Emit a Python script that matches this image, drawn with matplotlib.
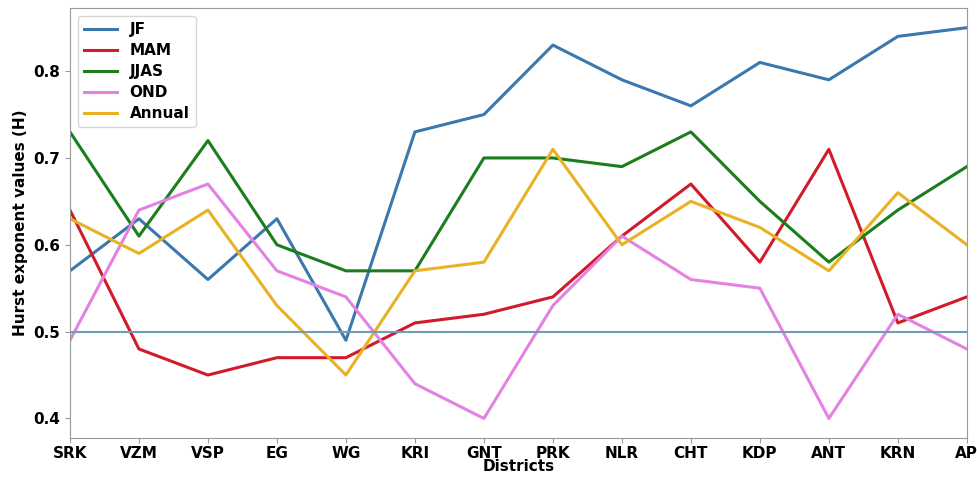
import numpy as np
import matplotlib
matplotlib.use("Agg")
import matplotlib.pyplot as plt

# Districts along the x axis
districts = ['SRK', 'VZM', 'VSP', 'EG', 'WG', 'KRI', 'GNT', 'PRK',
             'NLR', 'CHT', 'KDP', 'ANT', 'KRN', 'AP']

# Hurst exponent per season
jf     = [0.57, 0.63, 0.56, 0.63, 0.49, 0.73, 0.75, 0.83, 0.79, 0.76, 0.81, 0.79, 0.84, 0.85]
mam    = [0.64, 0.48, 0.45, 0.47, 0.47, 0.51, 0.52, 0.54, 0.61, 0.67, 0.58, 0.71, 0.51, 0.54]
jjas   = [0.73, 0.61, 0.72, 0.60, 0.57, 0.57, 0.70, 0.70, 0.69, 0.73, 0.65, 0.58, 0.64, 0.69]
ond    = [0.49, 0.64, 0.67, 0.57, 0.54, 0.44, 0.40, 0.53, 0.61, 0.56, 0.55, 0.40, 0.52, 0.48]
annual = [0.63, 0.59, 0.64, 0.53, 0.45, 0.57, 0.58, 0.71, 0.60, 0.65, 0.62, 0.57, 0.66, 0.60]

random_walk_h = 0.5

plt.rcParams['font.weight'] = 'bold'
plt.rcParams['axes.labelweight'] = 'bold'

fig = plt.figure(figsize=(9.77, 4.8), dpi=100)
ax = fig.add_axes([0.0716, 0.0875, 0.918, 0.8955])

x = np.arange(len(districts))
ax.plot(x, jf, color='#3a78ad', lw=2.2, label='JF')
ax.plot(x, mam, color='#d11a2a', lw=2.2, label='MAM')
ax.plot(x, jjas, color='#1b7d1b', lw=2.2, label='JJAS')
ax.plot(x, ond, color='#e482e4', lw=2.2, label='OND')
ax.plot(x, annual, color='#e9b224', lw=2.2, label='Annual')

ax.axhline(random_walk_h, color='#6f9cb8', lw=1.5)

ax.set_xticks(x)
ax.set_xticklabels(districts)
ax.set_yticks([0.4, 0.5, 0.6, 0.7, 0.8])
ax.set_xlim(0, len(districts) - 1)
ax.tick_params(labelsize=11, colors='#999999', labelcolor='black')
ax.tick_params(axis='x', pad=2)
for s in ax.spines.values():
    s.set_color('#999999')

ax.set_xlabel('Districts', fontsize=11, labelpad=-1)
ax.set_ylabel('Hurst exponent values (H)', fontsize=11)
ax.legend(loc='upper left', fontsize=11, handlelength=2.2, labelspacing=0.4)

fig.savefig('out.png', dpi=100)
